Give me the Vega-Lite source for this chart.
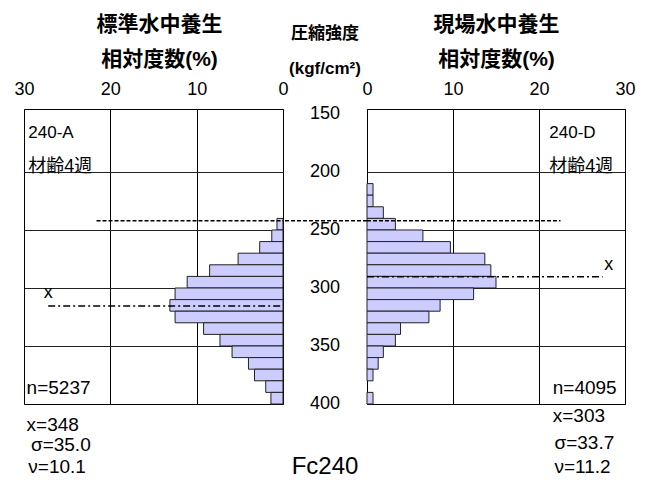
{
  "$schema": "https://vega.github.io/schema/vega-lite/v6.json",
  "background": "white",
  "padding": {"left": 13, "top": 12, "right": 0, "bottom": 0},
  "spacing": 0,
  "bounds": "flush",
  "config": {
    "font": "Liberation Sans, Noto Sans CJK JP",
    "view": {"stroke": "black", "strokeWidth": 1},
    "axis": {"labelColor": "black", "titleColor": "black", "labelFont": "Liberation Sans", "titleFont": "Liberation Sans, Noto Sans CJK JP"},
    "text": {"color": "black", "fontSize": 16}
  },
  "datasets": {
    "standard": [
      {"lo": 240, "hi": 250, "pct": 0.7},
      {"lo": 250, "hi": 260, "pct": 1.3},
      {"lo": 260, "hi": 270, "pct": 2.7},
      {"lo": 270, "hi": 280, "pct": 5.2},
      {"lo": 280, "hi": 290, "pct": 8.5},
      {"lo": 290, "hi": 300, "pct": 11.1},
      {"lo": 300, "hi": 310, "pct": 12.5},
      {"lo": 310, "hi": 320, "pct": 13.1},
      {"lo": 320, "hi": 330, "pct": 12.5},
      {"lo": 330, "hi": 340, "pct": 9.2},
      {"lo": 340, "hi": 350, "pct": 7.3},
      {"lo": 350, "hi": 360, "pct": 5.9},
      {"lo": 360, "hi": 370, "pct": 4.0},
      {"lo": 370, "hi": 380, "pct": 3.3},
      {"lo": 380, "hi": 390, "pct": 2.0},
      {"lo": 390, "hi": 400, "pct": 1.4}
    ],
    "site": [
      {"lo": 210, "hi": 220, "pct": 0.7},
      {"lo": 220, "hi": 230, "pct": 0.7},
      {"lo": 230, "hi": 240, "pct": 1.9},
      {"lo": 240, "hi": 250, "pct": 3.3},
      {"lo": 250, "hi": 260, "pct": 6.5},
      {"lo": 260, "hi": 270, "pct": 9.7},
      {"lo": 270, "hi": 280, "pct": 13.7},
      {"lo": 280, "hi": 290, "pct": 14.4},
      {"lo": 290, "hi": 300, "pct": 15.0},
      {"lo": 300, "hi": 310, "pct": 12.4},
      {"lo": 310, "hi": 320, "pct": 8.5},
      {"lo": 320, "hi": 330, "pct": 7.2},
      {"lo": 330, "hi": 340, "pct": 3.9},
      {"lo": 340, "hi": 350, "pct": 3.3},
      {"lo": 350, "hi": 360, "pct": 1.9},
      {"lo": 360, "hi": 370, "pct": 1.3},
      {"lo": 370, "hi": 380, "pct": 0.7},
      {"lo": 390, "hi": 400, "pct": 0.7}
    ],
    "strengthTicks": [
      {"v": 150}, {"v": 200}, {"v": 250}, {"v": 300}, {"v": 350}, {"v": 400}
    ]
  },
  "hconcat": [
    {
      "width": 259,
      "height": 295,
      "layer": [
        {
          "data": {"name": "standard"},
          "mark": {"type": "rect", "fill": "#ccccff", "stroke": "#222222", "strokeWidth": 1},
          "encoding": {
            "x": {
              "field": "pct", "type": "quantitative",
              "scale": {"domain": [0, 30], "reverse": true, "nice": false, "zero": false},
              "axis": {
                "orient": "top", "values": [0, 10, 20, 30], "grid": true, "gridColor": "black", "gridOpacity": 1,
                "ticks": false, "domain": false, "labelFontSize": 18, "labelPadding": 11, "labelFlush": false,
                "title": ["標準水中養生", "相対度数(%)"], "titleFontSize": 21, "titleFontWeight": "bold",
                "titleLineHeight": 35, "titlePadding": 11, "titleX": 135
              }
            },
            "x2": {"datum": 0},
            "y": {
              "field": "lo", "type": "quantitative",
              "scale": {"domain": [145.7, 400], "reverse": true, "nice": false, "zero": false},
              "axis": {"values": [200, 250, 300, 350], "grid": true, "gridColor": "#222222", "gridOpacity": 1, "labels": false, "ticks": false, "domain": false, "title": null}
            },
            "y2": {"field": "hi"}
          }
        },
        {
          "data": {"values": [{}]},
          "mark": {"type": "rule", "color": "black", "strokeWidth": 1.5, "strokeDash": [4, 2]},
          "encoding": {"x": {"datum": 21.6}, "x2": {"datum": 0}, "y": {"datum": 242}}
        },
        {
          "data": {"values": [{}]},
          "mark": {"type": "rule", "color": "black", "strokeWidth": 1.5, "strokeDash": [7, 3, 2, 3]},
          "encoding": {"x": {"datum": 27.2}, "x2": {"datum": 0}, "y": {"datum": 315.5}}
        },
        {
          "data": {"values": [{}]},
          "mark": {"type": "text", "fontSize": 18, "align": "center", "baseline": "middle"},
          "encoding": {"x": {"datum": 27.2}, "y": {"datum": 304}, "text": {"value": "x"}}
        },
        {
          "data": {"values": [{}]},
          "mark": {"type": "text", "fontSize": 17, "align": "left", "baseline": "middle"},
          "encoding": {"x": {"datum": 29.5}, "y": {"datum": 166}, "text": {"value": "240-A"}}
        },
        {
          "data": {"values": [{}]},
          "mark": {"type": "text", "fontSize": 18, "align": "left", "baseline": "middle"},
          "encoding": {"x": {"datum": 29.5}, "y": {"datum": 196}, "text": {"value": "材齢4週"}}
        },
        {
          "data": {"values": [{}]},
          "mark": {"type": "text", "fontSize": 19, "align": "left", "baseline": "middle"},
          "encoding": {"x": {"datum": 29.7}, "y": {"datum": 386}, "text": {"value": "n=5237"}}
        },
        {
          "data": {"values": [{}]},
          "mark": {"type": "text", "fontSize": 19, "align": "left", "baseline": "middle"},
          "encoding": {"x": {"datum": 29.7}, "y": {"datum": 418}, "text": {"value": "x=348"}}
        },
        {
          "data": {"values": [{}]},
          "mark": {"type": "text", "fontSize": 19, "align": "left", "baseline": "middle"},
          "encoding": {"x": {"datum": 29.2}, "y": {"datum": 435}, "text": {"value": "σ=35.0"}}
        },
        {
          "data": {"values": [{}]},
          "mark": {"type": "text", "fontSize": 19, "align": "left", "baseline": "middle"},
          "encoding": {"x": {"datum": 29.5}, "y": {"datum": 454}, "text": {"value": "ν=10.1"}}
        }
      ]
    },
    {
      "width": 84,
      "height": 295,
      "view": {"stroke": null},
      "title": {"text": ["圧縮強度", "(kgf/cm²)"], "fontSize": 17, "fontWeight": "bold", "lineHeight": 35, "offset": 27, "anchor": "middle", "color": "black", "font": "Liberation Sans, Noto Sans CJK JP"},
      "layer": [
        {
          "data": {"name": "strengthTicks"},
          "mark": {"type": "text", "fontSize": 18, "align": "center", "baseline": "middle"},
          "encoding": {
            "y": {"field": "v", "type": "quantitative", "scale": {"domain": [145.7, 400], "reverse": true, "nice": false, "zero": false}, "axis": null},
            "text": {"field": "v", "type": "quantitative"}
          }
        },
        {
          "data": {"values": [{}]},
          "mark": {"type": "rule", "color": "black", "strokeWidth": 1.5, "strokeDash": [4, 2]},
          "encoding": {"y": {"datum": 242}}
        },
        {
          "data": {"values": [{}]},
          "mark": {"type": "text", "fontSize": 24, "align": "center", "baseline": "middle"},
          "encoding": {"y": {"datum": 454}, "text": {"value": "Fc240"}}
        }
      ]
    },
    {
      "width": 258,
      "height": 295,
      "layer": [
        {
          "data": {"name": "site"},
          "mark": {"type": "rect", "fill": "#ccccff", "stroke": "#222222", "strokeWidth": 1},
          "encoding": {
            "x": {
              "field": "pct", "type": "quantitative",
              "scale": {"domain": [0, 30], "nice": false, "zero": false},
              "axis": {
                "orient": "top", "values": [0, 10, 20, 30], "grid": true, "gridColor": "black", "gridOpacity": 1,
                "ticks": false, "domain": false, "labelFontSize": 18, "labelPadding": 11, "labelFlush": false,
                "title": ["現場水中養生", "相対度数(%)"], "titleFontSize": 21, "titleFontWeight": "bold",
                "titleLineHeight": 35, "titlePadding": 11
              }
            },
            "x2": {"datum": 0},
            "y": {
              "field": "lo", "type": "quantitative",
              "scale": {"domain": [145.7, 400], "reverse": true, "nice": false, "zero": false},
              "axis": {"values": [200, 250, 300, 350], "grid": true, "gridColor": "#222222", "gridOpacity": 1, "labels": false, "ticks": false, "domain": false, "title": null}
            },
            "y2": {"field": "hi"}
          }
        },
        {
          "data": {"values": [{}]},
          "mark": {"type": "rule", "color": "black", "strokeWidth": 1.5, "strokeDash": [4, 2]},
          "encoding": {"x": {"datum": 0}, "x2": {"datum": 22.5}, "y": {"datum": 242}}
        },
        {
          "data": {"values": [{}]},
          "mark": {"type": "rule", "color": "black", "strokeWidth": 1.5, "strokeDash": [7, 3, 2, 3]},
          "encoding": {"x": {"datum": 0}, "x2": {"datum": 27.4}, "y": {"datum": 290.3}}
        },
        {
          "data": {"values": [{}]},
          "mark": {"type": "text", "fontSize": 18, "align": "center", "baseline": "middle"},
          "encoding": {"x": {"datum": 28.1}, "y": {"datum": 280}, "text": {"value": "x"}}
        },
        {
          "data": {"values": [{}]},
          "mark": {"type": "text", "fontSize": 17, "align": "left", "baseline": "middle"},
          "encoding": {"x": {"datum": 21.2}, "y": {"datum": 166}, "text": {"value": "240-D"}}
        },
        {
          "data": {"values": [{}]},
          "mark": {"type": "text", "fontSize": 18, "align": "left", "baseline": "middle"},
          "encoding": {"x": {"datum": 21.2}, "y": {"datum": 196}, "text": {"value": "材齢4週"}}
        },
        {
          "data": {"values": [{}]},
          "mark": {"type": "text", "fontSize": 19, "align": "left", "baseline": "middle"},
          "encoding": {"x": {"datum": 21.6}, "y": {"datum": 386}, "text": {"value": "n=4095"}}
        },
        {
          "data": {"values": [{}]},
          "mark": {"type": "text", "fontSize": 19, "align": "left", "baseline": "middle"},
          "encoding": {"x": {"datum": 21.6}, "y": {"datum": 410}, "text": {"value": "x=303"}}
        },
        {
          "data": {"values": [{}]},
          "mark": {"type": "text", "fontSize": 19, "align": "left", "baseline": "middle"},
          "encoding": {"x": {"datum": 21.8}, "y": {"datum": 434}, "text": {"value": "σ=33.7"}}
        },
        {
          "data": {"values": [{}]},
          "mark": {"type": "text", "fontSize": 19, "align": "left", "baseline": "middle"},
          "encoding": {"x": {"datum": 21.8}, "y": {"datum": 454}, "text": {"value": "ν=11.2"}}
        }
      ]
    }
  ]
}
